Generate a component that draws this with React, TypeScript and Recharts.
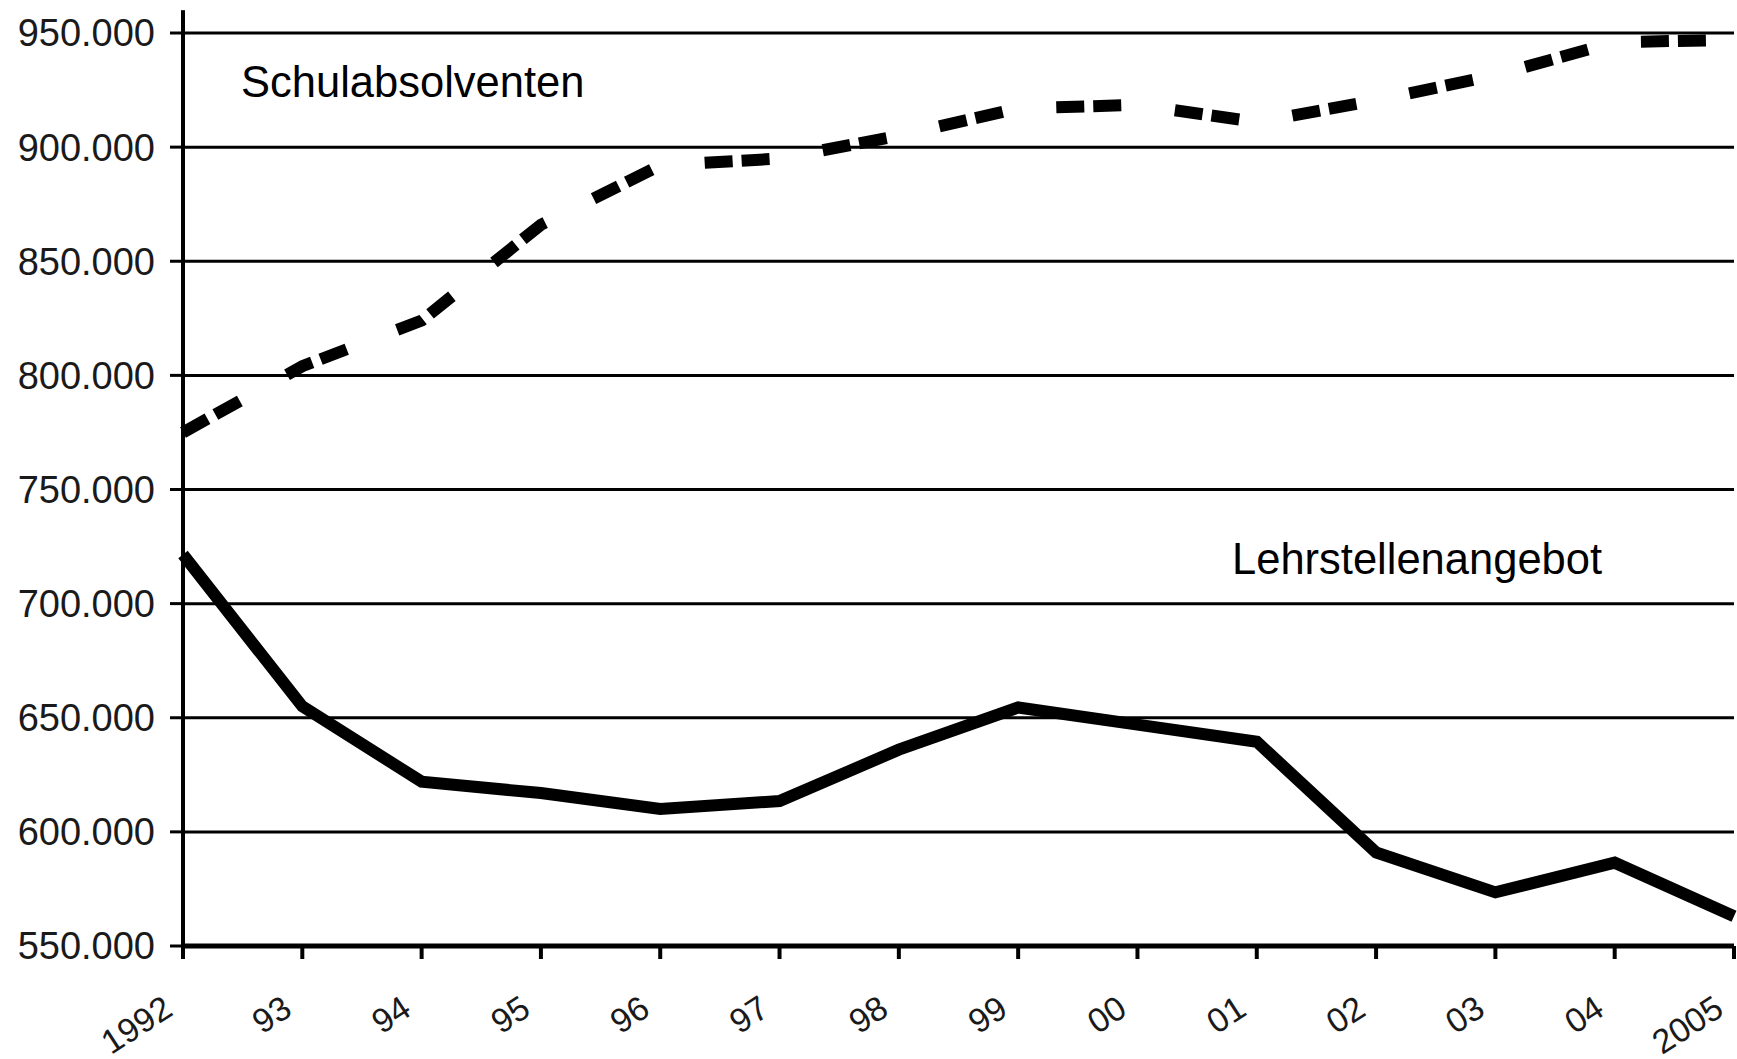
import React from 'react';
import { LineChart, Line, XAxis, YAxis, CartesianGrid, ReferenceLine } from 'recharts';

const years = ['1992', '93', '94', '95', '96', '97', '98', '99', '00', '01', '02', '03', '04', '2005'];
const schulabsolventen = [775000, 804000, 824000, 866000, 892000, 895000, 905000, 917000, 918500, 911000, 920500, 931500, 946000, 947000];
const lehrstellenangebot = [721500, 655000, 622000, 617000, 610000, 613500, 636000, 654500, 647000, 639500, 591000, 573500, 586500, 563000];
const yTicks = [550000, 600000, 650000, 700000, 750000, 800000, 850000, 900000, 950000];

const data = years.map((y, i) => ({ year: y, schul: schulabsolventen[i], lehr: lehrstellenangebot[i] }));

const FONT = '"Liberation Sans", Arial, sans-serif';

const fmt = (v: number) => `${Math.round(v / 1000)}.000`;

const XTick = (props: any) => {
  const { x, y, payload } = props;
  const px = x - 15;
  const py = y + 45;
  return (
    <text
      x={px}
      y={py}
      textAnchor="end"
      dominantBaseline="central"
      transform={`rotate(-33, ${px}, ${py})`}
      fontSize={34}
      fontFamily={FONT}
      fill="#1a1a1a"
    >
      {payload.value}
    </text>
  );
};

export default function App() {
  return (
    <div style={{ position: 'relative', width: 1737, height: 1059, background: '#fff' }}>
      <style>{`body{margin:0;background:#fff;}`}</style>
      <LineChart
        width={1737}
        height={1059}
        data={data}
        margin={{ top: 33, right: 3, left: 0, bottom: 0 }}
      >
        <CartesianGrid horizontal={true} vertical={false} stroke="#000" strokeWidth={3} />
        <XAxis
          dataKey="year"
          height={113}
          padding={{ left: 0, right: 0 }}
          axisLine={{ stroke: '#000', strokeWidth: 5 }}
          tickLine={{ stroke: '#000', strokeWidth: 4 }}
          tickSize={13}
          tickMargin={0}
          interval={0}
          tick={<XTick />}
        />
        <YAxis
          width={183}
          domain={[550000, 950000]}
          ticks={yTicks}
          interval={0}
          tickFormatter={fmt}
          axisLine={{ stroke: '#000', strokeWidth: 4 }}
          tickLine={{ stroke: '#000', strokeWidth: 3 }}
          tickSize={13}
          tickMargin={15}
          tick={{ fontSize: 38, fontFamily: FONT, fill: '#1a1a1a' }}
        />
        <ReferenceLine
          segment={[{ x: '1992', y: 950000 }, { x: '1992', y: 960000 }]}
          stroke="#000"
          strokeWidth={4}
          ifOverflow="visible"
        />
        <Line
          type="linear"
          dataKey="schul"
          stroke="#000"
          strokeWidth={12}
          strokeDasharray="28 9 28 54"
          strokeLinecap="butt"
          dot={false}
          activeDot={false}
          isAnimationActive={false}
        />
        <Line
          type="linear"
          dataKey="lehr"
          stroke="#000"
          strokeWidth={12}
          strokeLinejoin="miter"
          dot={false}
          activeDot={false}
          isAnimationActive={false}
        />
      </LineChart>
      <div
        style={{
          position: 'absolute',
          left: 241,
          top: 61,
          fontSize: 43.5,
          lineHeight: 1,
          fontFamily: FONT,
          color: '#000',
          whiteSpace: 'nowrap',
        }}
      >
        Schulabsolventen
      </div>
      <div
        style={{
          position: 'absolute',
          left: 1232,
          top: 538,
          fontSize: 43.5,
          lineHeight: 1,
          fontFamily: FONT,
          color: '#000',
          whiteSpace: 'nowrap',
        }}
      >
        Lehrstellenangebot
      </div>
    </div>
  );
}
